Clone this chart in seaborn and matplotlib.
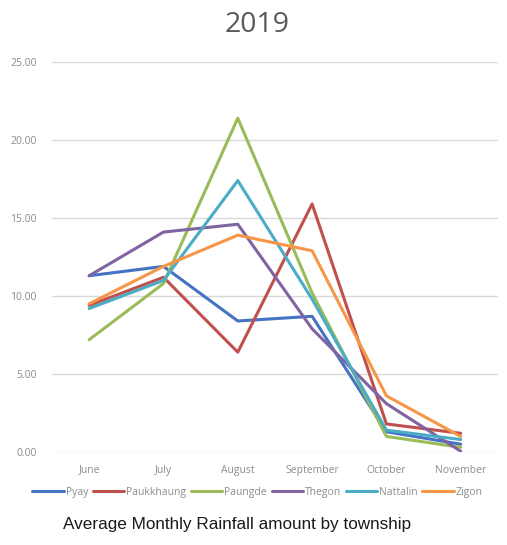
import matplotlib
matplotlib.use("Agg")
import matplotlib.pyplot as plt
import seaborn as sns
import pandas as pd
from matplotlib.ticker import FormatStrFormatter

months = ["June", "July", "August", "September", "October", "November"]
pyay = [11.3, 11.9, 8.4, 8.7, 1.3, 0.5]
paukkhaung = [9.4, 11.2, 6.4, 15.9, 1.8, 1.2]
paungde = [7.2, 10.8, 21.4, 10.2, 1.0, 0.3]
thegon = [11.3, 14.1, 14.6, 7.9, 3.1, 0.05]
nattalin = [9.2, 11.0, 17.4, 9.8, 1.4, 0.8]
zigon = [9.5, 11.9, 13.9, 12.9, 3.6, 1.0]

townships = ["Pyay", "Paukkhaung", "Paungde", "Thegon", "Nattalin", "Zigon"]
series = [pyay, paukkhaung, paungde, thegon, nattalin, zigon]
colors = ["#4472C4", "#C0504D", "#9BBB59", "#8064A2", "#4BACC6", "#F79646"]

rows = []
for name, vals in zip(townships, series):
    for i, (m, v) in enumerate(zip(months, vals)):
        rows.append({"Month": m, "idx": i, "Township": name, "Rainfall": v})
df = pd.DataFrame(rows)

sns.set_theme(style="white")
plt.rcParams["font.family"] = ["Open Sans", "DejaVu Sans"]

fig = plt.figure(figsize=(5.07, 5.45), dpi=100)
ax = fig.add_axes([0.1026, 0.1706, 0.8794, 0.7156])

sns.lineplot(data=df, x="idx", y="Rainfall", hue="Township",
             hue_order=townships, palette=colors, linewidth=2.2,
             ax=ax, legend=False, sort=False)

ax.set_xlim(-0.5, 5.5)
ax.set_ylim(0, 25)
ax.set_yticks([0, 5, 10, 15, 20, 25])
ax.yaxis.set_major_formatter(FormatStrFormatter("%.2f"))
ax.set_xticks(range(len(months)))
ax.set_xticklabels(months)
ax.set_xlabel("")
ax.set_ylabel("")
ax.grid(axis="y", color="#D9D9D9", linewidth=1.0)
ax.set_axisbelow(True)
for s in ax.spines.values():
    s.set_visible(False)
ax.tick_params(axis="both", length=0, labelsize=7.5, labelcolor="#8C8C8C")
ax.tick_params(axis="y", pad=11)
ax.tick_params(axis="x", pad=9)

fig.text(0.508, 0.955, "2019", ha="center", va="center",
         fontsize=20.5, color="#595959")

handles = [plt.Line2D([], [], color=c, linewidth=2.2) for c in colors]
fig.legend(handles, townships, loc="center", bbox_to_anchor=(0.508, 0.097),
           ncol=6, frameon=False, fontsize=7.5, labelcolor="#8C8C8C",
           handlelength=3.0, handletextpad=0.2, columnspacing=0.45)

fig.text(0.467, 0.037, "Average Monthly Rainfall amount by township",
         ha="center", va="center", fontsize=12.3, color="#1a1a1a",
         family=["Liberation Sans", "DejaVu Sans"])

fig.savefig("out.png", dpi=100, facecolor="white")
